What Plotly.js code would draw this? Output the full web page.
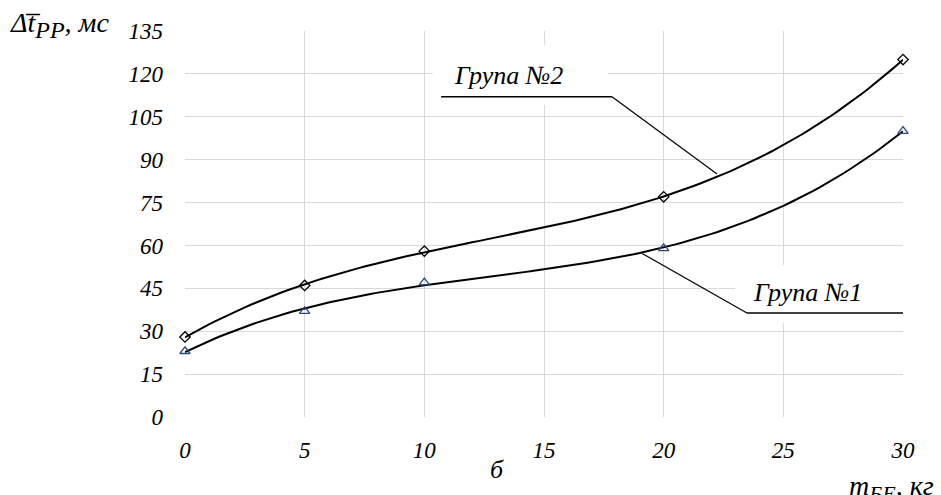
<!DOCTYPE html>
<html>
<head>
<meta charset="utf-8">
<script src="https://cdn.plot.ly/plotly-3.0.1.min.js"></script>
<style>
  html, body { margin: 0; padding: 0; background: #fff; }
  #chart { width: 941px; height: 495px; }
</style>
</head>
<body>
<div id="chart"></div>
<script>
// Cargo mass, kg
const massKg = [0, 5, 10, 20, 30];
// Mean reaction-time increase, ms
const group1 = [23, 37, 47, 59, 100];
const group2 = [28, 46, 58, 77, 125];

const xTicks = [0, 5, 10, 15, 20, 25, 30];
const yTicks = [0, 15, 30, 45, 60, 75, 90, 105, 120, 135];

const serif = 'Liberation Serif';
const tickFont = { family: serif, size: 23, style: 'italic', color: '#000' };
const labelFont = { family: serif, size: 26, style: 'italic', color: '#000' };
const axisLabelFont = { family: serif, size: 28, style: 'italic', color: '#000' };

// Order-3 polynomial trendline (least squares) for a measured series.
function cubicTrend(xs, ys, steps) {
  const n = 4;
  const A = [], b = [];
  for (let i = 0; i < n; i++) {
    A.push(new Array(n).fill(0));
    b.push(0);
  }
  xs.forEach((x, k) => {
    for (let i = 0; i < n; i++) {
      for (let j = 0; j < n; j++) A[i][j] += Math.pow(x, i + j);
      b[i] += ys[k] * Math.pow(x, i);
    }
  });
  // Gaussian elimination
  for (let c = 0; c < n; c++) {
    let p = c;
    for (let r = c + 1; r < n; r++) if (Math.abs(A[r][c]) > Math.abs(A[p][c])) p = r;
    [A[c], A[p]] = [A[p], A[c]];
    [b[c], b[p]] = [b[p], b[c]];
    for (let r = c + 1; r < n; r++) {
      const f = A[r][c] / A[c][c];
      for (let j = c; j < n; j++) A[r][j] -= f * A[c][j];
      b[r] -= f * b[c];
    }
  }
  const coef = new Array(n).fill(0);
  for (let i = n - 1; i >= 0; i--) {
    let s = b[i];
    for (let j = i + 1; j < n; j++) s -= A[i][j] * coef[j];
    coef[i] = s / A[i][i];
  }
  const x0 = Math.min(...xs), x1 = Math.max(...xs);
  const tx = [], ty = [];
  for (let k = 0; k <= steps; k++) {
    const x = x0 + (x1 - x0) * k / steps;
    tx.push(x);
    ty.push(coef[0] + coef[1] * x + coef[2] * x * x + coef[3] * x * x * x);
  }
  return { x: tx, y: ty };
}

const trend1 = cubicTrend(massKg, group1, 120);
const trend2 = cubicTrend(massKg, group2, 120);

const lineStyle = { color: '#000', width: 2 };

const traces = [
  { x: trend2.x, y: trend2.y, mode: 'lines', line: lineStyle, hoverinfo: 'skip', cliponaxis: false },
  { x: trend1.x, y: trend1.y, mode: 'lines', line: lineStyle, hoverinfo: 'skip', cliponaxis: false },
  {
    x: massKg, y: group2, name: 'Група №2', mode: 'markers',
    marker: { symbol: 'diamond-open', size: 8, color: '#000', line: { width: 1.3 } },
    cliponaxis: false
  },
  {
    x: massKg, y: group1, name: 'Група №1', mode: 'markers',
    marker: { symbol: 'triangle-up-open', size: 9, color: '#2b4a7a', line: { width: 1.3 } },
    cliponaxis: false
  }
];

const layout = {
  width: 941, height: 495,
  margin: { l: 185, r: 38, t: 31, b: 78 },
  paper_bgcolor: '#fff', plot_bgcolor: '#fff',
  showlegend: false,
  font: { family: serif },
  xaxis: {
    range: [0, 30], tickvals: xTicks, ticktext: xTicks.map(String),
    showgrid: true, gridcolor: '#d9d9d9', gridwidth: 1,
    zeroline: false, showline: false, ticks: '',
    tickfont: tickFont, ticklabelstandoff: 17
  },
  yaxis: {
    range: [0, 135], tickvals: yTicks, ticktext: yTicks.map(String),
    showgrid: true, gridcolor: '#d9d9d9', gridwidth: 1,
    zeroline: false, showline: false, ticks: '',
    tickfont: tickFont, ticklabelstandoff: 21
  },
  shapes: [
    // white backing behind the series labels
    { type: 'rect', xref: 'x', yref: 'y', x0: 10.36, x1: 17.67, y0: 109.1, y1: 130.1,
      fillcolor: '#fff', line: { width: 0 }, layer: 'between' },
    { type: 'rect', xref: 'x', yref: 'y', x0: 22.98, x1: 30.4, y0: 32.9, y1: 53.2,
      fillcolor: '#fff', line: { width: 0 }, layer: 'between' },
    // leader lines
    { type: 'line', xref: 'x', yref: 'y', x0: 10.70, y0: 112.0, x1: 17.84, y1: 112.0,
      line: { color: '#000', width: 1.5 }, layer: 'above' },
    { type: 'line', xref: 'x', yref: 'y', x0: 17.84, y0: 112.0, x1: 22.23, y1: 85.0,
      line: { color: '#000', width: 1.2 }, layer: 'above' },
    { type: 'line', xref: 'x', yref: 'y', x0: 19.10, y0: 57.2, x1: 23.48, y1: 36.4,
      line: { color: '#000', width: 1.2 }, layer: 'above' },
    { type: 'line', xref: 'x', yref: 'y', x0: 23.48, y0: 36.4, x1: 30.08, y1: 36.4,
      line: { color: '#000', width: 1.5 }, layer: 'above' }
  ],
  annotations: [
    { xref: 'x', yref: 'y', x: 13.5, y: 119.6, text: 'Група №2', showarrow: false,
      font: labelFont, xanchor: 'center', yanchor: 'middle' },
    { xref: 'x', yref: 'y', x: 26.03, y: 43.4, text: 'Група №1', showarrow: false,
      font: labelFont, xanchor: 'center', yanchor: 'middle' },
    { xref: 'paper', yref: 'paper', x: -0.2465, y: 1.0155,
      text: 'Δt\u0305<sub><span style="font-size:24px">PP</span></sub>, мс', showarrow: false,
      font: axisLabelFont, xanchor: 'left', yanchor: 'middle' },
    { xref: 'paper', yref: 'paper', x: 0.4345, y: -0.137, text: 'б', showarrow: false,
      font: labelFont, xanchor: 'center', yanchor: 'middle' },
    { xref: 'paper', yref: 'paper', x: 0.922, y: -0.183,
      text: 'm<sub><span style="font-size:22px">БЕ</span></sub>, кг', showarrow: false,
      font: axisLabelFont, xanchor: 'left', yanchor: 'middle' }
  ]
};

Plotly.newPlot('chart', traces, layout, { staticPlot: true, displayModeBar: false });
</script>
</body>
</html>
